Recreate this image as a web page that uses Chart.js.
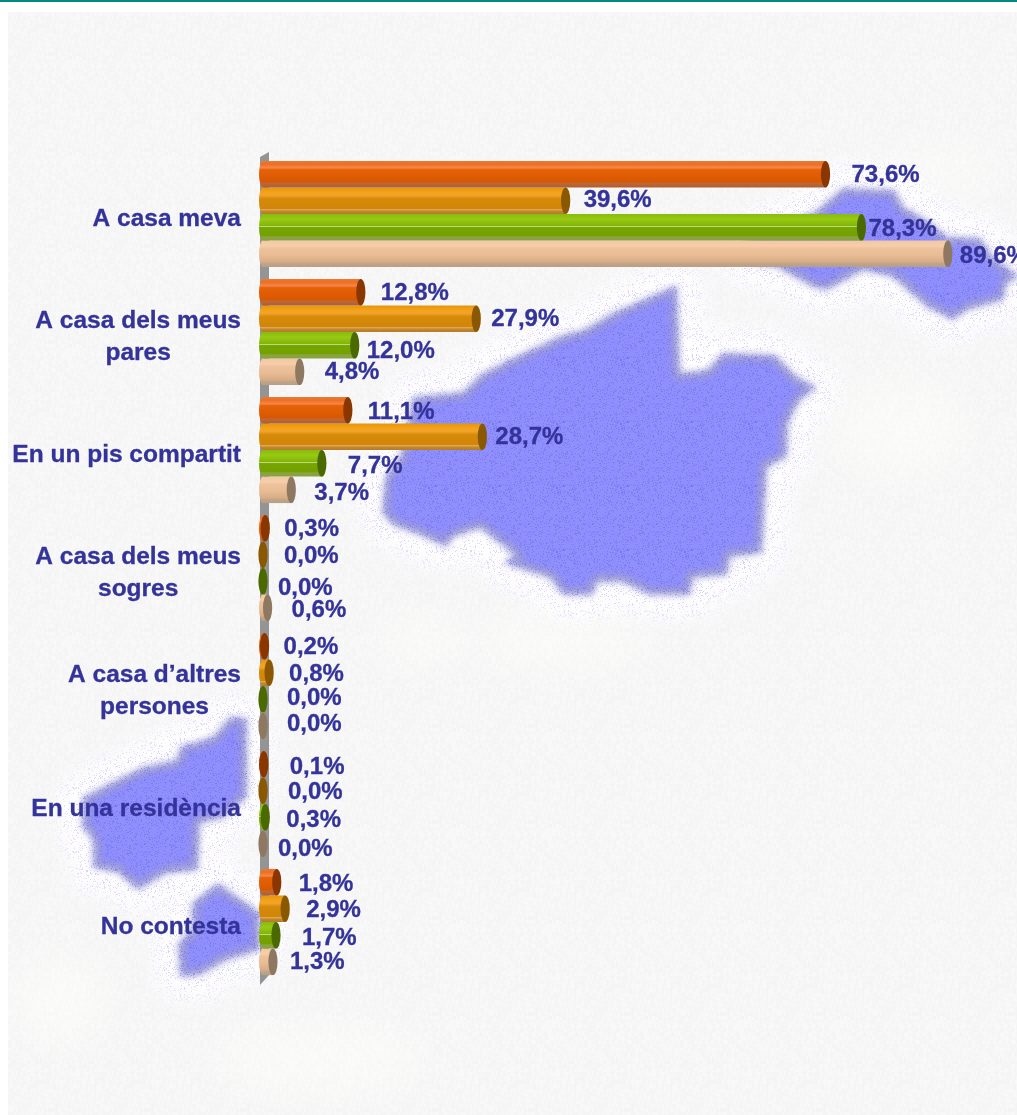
<!DOCTYPE html>
<html><head><meta charset="utf-8">
<style>html,body{margin:0;padding:0;background:#fff}canvas{display:block}</style>
<script src="https://cdn.jsdelivr.net/npm/chart.js@4"></script>
</head><body><canvas id="c" width="1017" height="1115"></canvas>
<script>
const categories = [["A casa meva"],["A casa dels meus","pares"],["En un pis compartit"],["A casa dels meus","sogres"],["A casa d’altres","persones"],["En una residència"],["No contesta"]];
const serieA = [73.6,12.8,11.1,0.3,0.2,0.1,1.8];
const serieB = [39.6,27.9,28.7,0.0,0.8,0.0,2.9];
const serieC = [78.3,12.0,7.7,0.0,0.0,0.3,1.7];
const serieD = [89.6,4.8,3.7,0.6,0.0,0.0,1.3];

// label nudges relative to each bar end (per series, per category)
const labelDx = [[26,20,20,19,19,26,22],[18,15,13,21,20,25,21],[7,12,26,15,24,21,26],[12,25,23,24,24,15,17]];
const labelDy = [[0,0,1,0,0,2,1],[-1,0,0,1,1,1,1],[1,5,2,6,-2,2,2],[2,0,3,2,-2,5,0]];

const INK = '#333399';
const FONT = 'bold 24px "Liberation Sans", Arial, sans-serif';
const CAT_FONT = 'bold 24.5px "Liberation Sans", Arial, sans-serif';
const capColors = ['#8a3600','#8a5800','#4a6a00','#8f7862'];
const barStops = [
 [[0,'#e97a36'],[.12,'#ee6e20'],[.26,'#f5874a'],[.33,'#e66208'],[.78,'#d85700'],[.84,'#bd6836'],[1,'#b05e30']],
 [[0,'#e2960f'],[.18,'#f7a216'],[.3,'#eea42e'],[.42,'#d88a08'],[.8,'#d0860a'],[.84,'#e8b060'],[.88,'#c58a30'],[1,'#b47a28']],
 [[0,'#86bc0c'],[.2,'#98ca12'],[.44,'#82b40a'],[.47,'#bcdc78'],[.51,'#76a500'],[.82,'#74a000'],[.86,'#8aa444'],[1,'#88a240']],
 [[0,'#f2c8a2'],[.2,'#f6ceaa'],[.3,'#eec29c'],[.55,'#e8bc94'],[.8,'#d8ac86'],[.88,'#bea488'],[1,'#b89e84']]
];

// map outlines of the decorative page background
const mapMain = [[677,285],[680,373],[707,370],[723,353],[775,355],[797,377],[817,387],[800,400],[788,423],[787,457],[767,467],[762,553],[730,557],[727,575],[693,578],[690,595],[650,595],[623,582],[597,582],[593,595],[563,595],[550,578],[503,563],[515,555],[480,528],[453,537],[447,547],[420,535],[393,525],[382,513],[385,477],[400,457],[413,397],[463,392],[480,375],[515,357],[563,335],[583,330],[613,313],[647,298]];
const mapNE = [[843,188],[895,190],[903,207],[927,220],[947,237],[980,238],[993,257],[1020,277],[1007,283],[1003,300],[967,310],[953,320],[927,307],[893,277],[863,270],[840,283],[827,290],[813,287],[777,267],[745,262],[745,240],[815,212]];
const mapSW = [[230,717],[247,718],[247,797],[223,818],[200,823],[198,870],[167,873],[138,890],[117,872],[93,868],[93,840],[82,827],[83,797],[117,780],[143,767],[177,760],[180,747],[213,737]];
const mapS = [[218,883],[260,913],[260,950],[227,960],[200,975],[180,977],[178,943],[192,930],[192,903]];
const maps = [mapMain,mapNE,mapSW,mapS];
// pale patches in the paper
const palePatches = [[320,1060,110,35],[60,1000,50,45],[560,640,90,30],[900,430,70,50],[420,640,50,25],[940,170,60,25]];

function hash(x,y){let h=(Math.imul(x,374761393)+Math.imul(y,668265263))|0;h=Math.imul(h^(h>>>13),1274126177);return ((h^(h>>>16))>>>0)/4294967296;}
function tile(size,paint){const t=document.createElement('canvas');t.width=t.height=size;const g=t.getContext('2d');
 const im=g.createImageData(size,size);for(let y=0;y<size;y++)for(let x=0;x<size;x++){const p=paint(x,y);const i=(y*size+x)*4;im.data[i]=p[0];im.data[i+1]=p[1];im.data[i+2]=p[2];im.data[i+3]=p[3];}
 g.putImageData(im,0,0);return t;}
function trace(g,pts){g.beginPath();pts.forEach((p,i)=>i?g.lineTo(p[0],p[1]):g.moveTo(p[0],p[1]));g.closePath();}

const backgroundPlugin = {id:'pageBackground',beforeDraw(chart){
 const g=chart.ctx,W=chart.width,H=chart.height;
 g.save();
 g.fillStyle='#fff';g.fillRect(0,0,W,H);
 g.fillStyle='#008a80';g.fillRect(0,0,W,2);
 g.beginPath();g.rect(8,12,W-8,H-12);g.clip();
 const paper=tile(96,(x,y)=>{const v=hash(x>>1,y>>2)*0.6+hash((x+1)>>2,(y+2)>>1)*0.4;const c=243+Math.round(v*7);return [c,c,c,255];});
 g.fillStyle=g.createPattern(paper,'repeat');g.fillRect(8,12,W,H);
 g.filter='blur(20px)';g.fillStyle='rgba(255,255,252,.45)';
 palePatches.forEach(p=>{g.beginPath();g.ellipse(p[0],p[1],p[2],p[3],0,0,Math.PI*2);g.fill();});
 // pale halos around the map
 g.filter='blur(14px)';g.strokeStyle='rgba(255,255,255,.95)';g.lineWidth=46;g.lineJoin='round';
 maps.forEach(m=>{trace(g,m);g.stroke();});
 g.filter='none';
 // speckle that fades out away from the map
 const specks=tile(64,(x,y)=>{const v=hash(x+7,y+91);if(v<.09)return [185,185,250,170];if(v<.13)return [250,195,250,150];return [0,0,0,0];});
 const sp=document.createElement('canvas');sp.width=W;sp.height=H;const sg=sp.getContext('2d');
 sg.filter='blur(12px)';sg.lineWidth=44;sg.lineJoin='round';sg.strokeStyle='#000';maps.forEach(m=>{trace(sg,m);sg.stroke();});
 sg.filter='none';sg.globalCompositeOperation='source-in';sg.fillStyle=sg.createPattern(specks,'repeat');sg.fillRect(0,0,W,H);
 g.drawImage(sp,0,0);
 // map bodies
 g.filter='blur(3.5px)';g.fillStyle='#9c9cd8';maps.forEach(m=>{trace(g,m);g.fill();});
 g.filter='none';
 const inner=document.createElement('canvas');inner.width=W;inner.height=H;const ig=inner.getContext('2d');
 ig.fillStyle='#8f8ffd';maps.forEach(m=>{trace(ig,m);ig.fill();});
 ig.globalCompositeOperation='destination-out';ig.lineWidth=16;ig.lineJoin='round';ig.strokeStyle='#000';
 maps.forEach(m=>{trace(ig,m);ig.stroke();});
 g.filter='blur(3px)';g.drawImage(inner,0,0);g.filter='none';
 const dots=tile(64,(x,y)=>{const v=hash(x+31,y+5);if(v<.16)return [100,100,225,110];if(v<.22)return [150,110,240,90];return [0,0,0,0];});
 g.fillStyle=g.createPattern(dots,'repeat');maps.forEach(m=>{trace(g,m);g.fill();});
 g.restore();
}};

const wallPlugin = {id:'axisWall',beforeDatasetsDraw(chart){
 const g=chart.ctx,a=chart.chartArea,x=chart.scales.x.getPixelForValue(0);
 g.save();g.fillStyle='#949494';g.beginPath();
 g.moveTo(x-3,a.top+2);g.lineTo(x+6,a.top-3);g.lineTo(x+6,a.bottom-6);g.lineTo(x-3,a.bottom+4);g.closePath();g.fill();g.restore();
}};

const cylinderPlugin = {id:'cylinders',afterDatasetsDraw(chart){
 const g=chart.ctx;g.save();
 chart.data.datasets.forEach((ds,s)=>{chart.getDatasetMeta(s).data.forEach((el,i)=>{
   const ry=el.height/2;
   g.fillStyle=el.options.backgroundColor;
   g.beginPath();g.ellipse(el.base,el.y,4,ry,0,0,Math.PI*2);g.fill();
   g.fillStyle=capColors[s];
   g.beginPath();g.ellipse(el.x,el.y,4.6,ry,0,0,Math.PI*2);g.fill();
 });});
 g.fillStyle=INK;g.strokeStyle=INK;g.lineWidth=.3;g.font=FONT;g.textAlign='left';g.textBaseline='middle';
 chart.data.datasets.forEach((ds,s)=>{chart.getDatasetMeta(s).data.forEach((el,i)=>{
   const t=ds.data[i].toFixed(1).replace('.',',')+'%',lx=el.x+labelDx[s][i],ly=el.y+labelDy[s][i]+1;
   g.fillText(t,lx,ly);g.strokeText(t,lx,ly);
 });});
 g.restore();
}};

const categoryPlugin = {id:'categoryText',afterDraw(chart){
 const g=chart.ctx,y=chart.scales.y;g.save();g.fillStyle=INK;g.strokeStyle=INK;g.lineWidth=.3;g.font=CAT_FONT;g.textBaseline='middle';g.textAlign='center';
 categories.forEach((lines,i)=>{
   const mid=y.getPixelForValue(i)+5,w=Math.max(...lines.map(l=>g.measureText(l).width));
   lines.forEach((l,k)=>{
     const ly=mid+(k-(lines.length-1)/2)*32;
     g.fillText(l,241-w/2,ly);g.strokeText(l,241-w/2,ly);
   });
 });g.restore();
}};

const band = 118*0.9/4;
function cylinderFill(s){return c=>{
 const fallback=barStops[s][2][1];
 const cy=c.chart.scales.y; if(!cy||c.dataIndex===undefined) return fallback;
 const mid=cy.getPixelForValue(c.dataIndex)+(s-1.5)*band;
 if(!isFinite(mid)) return fallback;
 const gr=c.chart.ctx.createLinearGradient(0,mid-band/2,0,mid+band/2);
 barStops[s].forEach(p=>gr.addColorStop(p[0],p[1]));return gr;};}

new Chart(document.getElementById('c'),{
 type:'bar',
 data:{labels:categories.map(l=>l.join(' ')),datasets:[serieA,serieB,serieC,serieD].map((d,s)=>({
   data:d,backgroundColor:cylinderFill(s),borderWidth:0,categoryPercentage:.9,barPercentage:1}))},
 options:{indexAxis:'y',responsive:false,animation:false,events:[],
  layout:{padding:{left:263,right:5,top:155,bottom:134}},
  plugins:{legend:{display:false},tooltip:{enabled:false},title:{display:false}},
  scales:{
   x:{type:'linear',min:0,max:98,display:false},
   y:{type:'category',display:false}
  }},
 plugins:[backgroundPlugin,wallPlugin,cylinderPlugin,categoryPlugin]
});
</script></body></html>
